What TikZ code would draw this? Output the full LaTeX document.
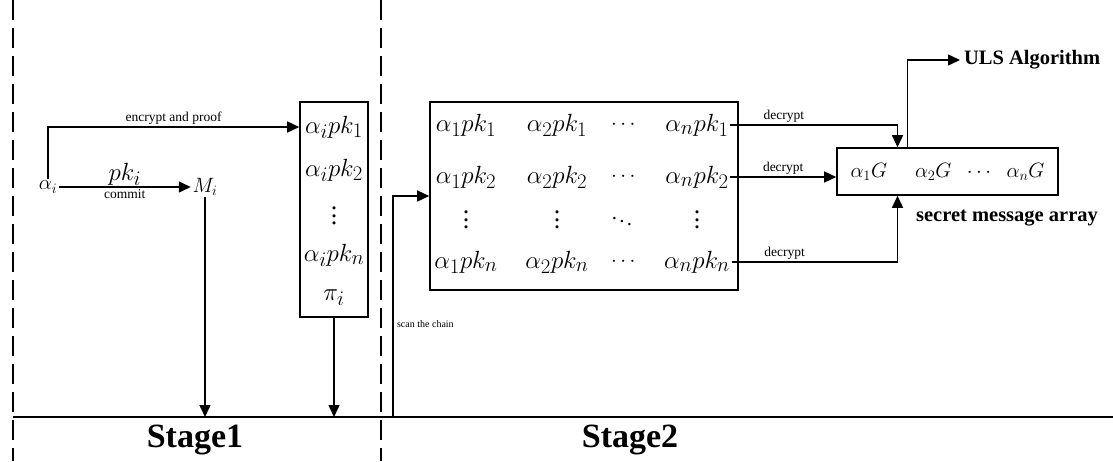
\documentclass[tikz,border=0pt]{standalone}
\usepackage{amsmath}
\usepackage{fontspec}
\setmainfont{Liberation Serif}
\usetikzlibrary{arrows.meta,positioning}
\newcommand{\vdt}{\vbox{\baselineskip0.3em\lineskiplimit0pt\hbox{.}\hbox{.}\hbox{.}}}

\begin{document}
\begin{tikzpicture}[x=1pt,y=-1pt,line width=1.5pt,
  >={Triangle[length=12pt,width=11pt]},
  ent/.style={inner sep=1pt,font=\fontsize{20.74}{24}\selectfont},
  bigent/.style={inner sep=1pt,font=\fontsize{24.88}{28}\selectfont},
  dots/.style={inner sep=0pt,font=\fontsize{26}{28}\selectfont},
  lbl/.style={inner sep=2pt,font=\fontsize{13.5}{15}\selectfont},
  stage/.style={font=\fontsize{34}{38}\selectfont\bfseries},
  bold/.style={font=\fontsize{20.5}{24}\selectfont\bfseries},
  box/.style={draw,line width=1.6pt},
  sep/.style={line width=2.4pt,dash pattern=on 20pt off 8pt}]
\useasboundingbox (0,0) rectangle (1113,461);
% stage borders
\draw[sep] (13,0) -- (13,461);
\draw[sep] (381,0) -- (381,461);
\coordinate (base) at (13,417);
\coordinate (scan) at (393,417);
\draw (base) -- (1113,417);
\node[stage] (s1) at (195,440) {Stage1};
\node[stage] (s2) at (630,440) {Stage2};
% stage 1
\node[ent] (ai) at (48,187) {$\alpha_i$};
\node[ent] (mi) at (205,187) {$M_i$};
\node[box,minimum width=68pt,minimum height=215pt] (col) at (334,209.5) {};
\foreach \y/\t [count=\k] in {127/\alpha_i pk_1,170/\alpha_i pk_2,255/\alpha_i pk_n,298/\pi_i}
  \node[bigent] (c\k) at (334,\y) {$\t$};
\node[dots] (cv) at (334,216) {\vdt};
\draw[->] (ai) -- (mi) node[midway,above,bigent]{$pk_i$} node[midway,below,lbl]{commit};
\draw[->] (ai.north) |- (c1.west -| col.west) node[pos=0.75,above,lbl]{encrypt and proof};
\draw[->] (mi.south) -- (mi.south |- base);
\draw[->] (col.south) -- (col.south |- base);
% stage 2
\node[box,minimum width=308pt,minimum height=188pt] (mat) at (584,196) {};
\foreach \x/\a in {466/1,557/2,697/n}
  \foreach \y/\b in {125/1,177/2,262/n}
    \node[bigent] (m\b\a) at (\x,\y) {$\alpha_\a pk_\b$};
\foreach \y/\b in {125/1,177/2,262/n}
  \node[ent] (d\b) at (625,\y) {$\cdots$};
\foreach \x/\a in {466/1,557/2,697/n}
  \node[dots] (v\a) at (\x,220) {\vdt};
\node[ent] (dd) at (622,218) {$\ddots$};
\draw[->] (scan) |- (mat.west) node[pos=0.21,right,font=\fontsize{10}{12}\selectfont]{scan the chain};
\node[box,ent,minimum width=221pt,minimum height=47pt] (sma) at (947.5,171.5)
  {$\alpha_1G\hspace{28pt}\alpha_2G\hspace{12pt}\cdots\hspace{12pt}\alpha_nG$};
\node[bold,anchor=west] (uls) at (960,60) {ULS Algorithm};
\node[bold] (sec) at (1007,218) {secret message array};
\draw[->] (m1n.east) -| ([xshift=-50pt]sma.north) node[pos=0.16,above,lbl]{decrypt};
\draw[->] (m2n.east) -- (m2n.east -| sma.west) node[midway,above,lbl]{decrypt};
\draw[->] (mnn.east) -| ([xshift=-50pt]sma.south) node[pos=0.16,above,lbl]{decrypt};
\draw[->] ([xshift=-40pt]sma.north) |- (uls.west);
\end{tikzpicture}
\end{document}
